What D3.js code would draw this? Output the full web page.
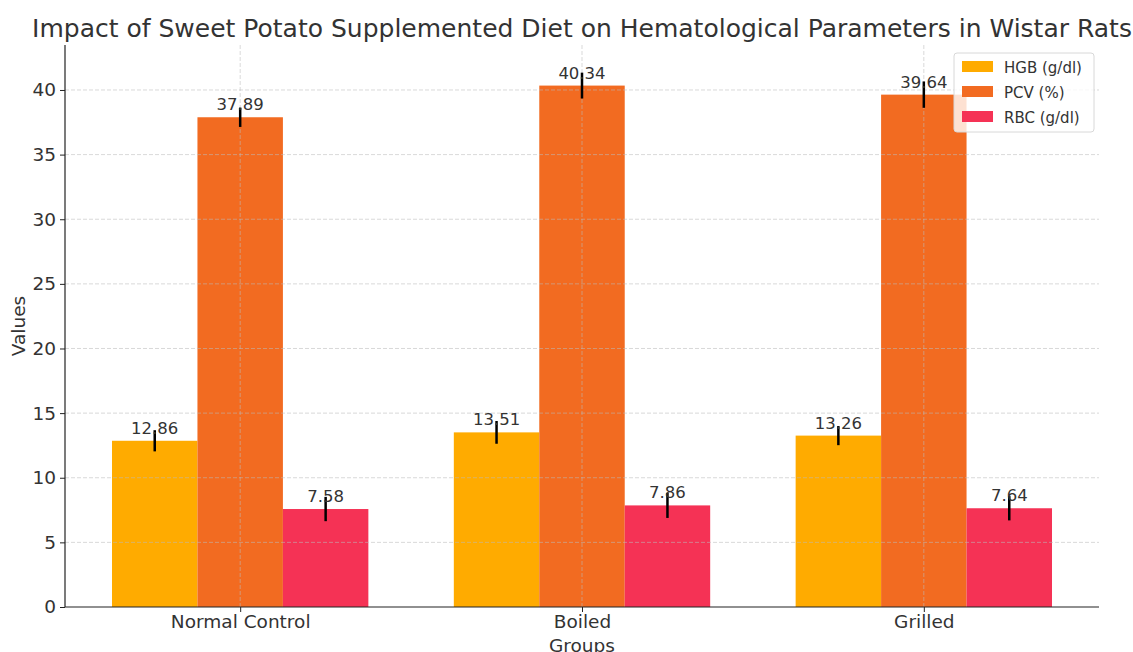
<!DOCTYPE html>
<html>
<head>
<meta charset="utf-8">
<script src="https://cdn.jsdelivr.net/npm/d3@7"></script>
<style>
  body { margin: 0; background: #fff; }
  svg { font-family: "DejaVu Sans", sans-serif; }
</style>
</head>
<body>
<svg id="chart" width="1133" height="652"></svg>
<script>
// data
var groups = ["Normal Control", "Boiled", "Grilled"];
var seriesNames = ["HGB (g/dl)", "PCV (%)", "RBC (g/dl)"];
var hgb = [12.86, 13.51, 13.26];
var pcv = [37.89, 40.34, 39.64];
var rbc = [7.58, 7.86, 7.64];
var hgbErr = [0.82, 0.88, 0.74];
var pcvErr = [0.75, 1.0, 1.02];
var rbcErr = [0.94, 0.97, 0.94];
var yTicks = [0, 5, 10, 15, 20, 25, 30, 35, 40];
var colors = ["#ffab00", "#f26b21", "#f53255"];

var series = [
  {name: seriesNames[0], values: hgb, err: hgbErr},
  {name: seriesNames[1], values: pcv, err: pcvErr},
  {name: seriesNames[2], values: rbc, err: rbcErr}
];

var svg = d3.select("#chart");
// plot box (window.top is taken, so prefixed names)
var pLeft = 65, pRight = 1099, pTop = 45, pBottom = 607;

// matplotlib style numeric x: groups at 0,1,2 with bar width 0.25
var barW = 0.25;
var x = d3.scaleLinear().domain([-0.5125, 2.5125]).range([pLeft, pRight]);
var y = d3.scaleLinear().domain([0, 43.48]).range([pBottom, pTop]);

// bars
series.forEach(function(s, si) {
  var off = (si - 1) * barW;
  var g = svg.append("g").attr("class", "series");
  g.selectAll("rect").data(s.values).enter().append("rect")
      .attr("x", function(d, i) { return x(i + off - barW / 2); })
      .attr("width", x(barW) - x(0))
      .attr("y", function(d) { return y(d); })
      .attr("height", function(d) { return y(0) - y(d); })
      .attr("fill", colors[si]);
});

// grid drawn over bars, faint
var grid = svg.append("g").attr("class", "grid");
grid.selectAll("line.h").data(yTicks.slice(1)).enter().append("line")
    .attr("class", "h")
    .attr("x1", pLeft).attr("x2", pRight)
    .attr("y1", function(d) { return y(d); })
    .attr("y2", function(d) { return y(d); });
grid.selectAll("line.v").data(groups).enter().append("line")
    .attr("class", "v")
    .attr("x1", function(d, i) { return x(i); })
    .attr("x2", function(d, i) { return x(i); })
    .attr("y1", pTop).attr("y2", pBottom);
grid.selectAll("line")
    .attr("stroke", "#bbb").attr("stroke-opacity", 0.7)
    .attr("stroke-dasharray", "4,2").attr("stroke-width", 0.8);

// error bars and labels
series.forEach(function(s, si) {
  var off = (si - 1) * barW;
  var g = svg.append("g");
  g.selectAll("line").data(s.values).enter().append("line")
      .attr("x1", function(d, i) { return x(i + off); })
      .attr("x2", function(d, i) { return x(i + off); })
      .attr("y1", function(d, i) { return y(d - s.err[i]); })
      .attr("y2", function(d, i) { return y(d + s.err[i]); })
      .attr("stroke", "#000").attr("stroke-width", 2.5);
  g.selectAll("text").data(s.values).enter().append("text")
      .attr("x", function(d, i) { return x(i + off); })
      .attr("y", function(d) { return y(d) - 7; })
      .attr("text-anchor", "middle")
      .attr("font-size", 16.5).attr("fill", "#333")
      .text(function(d) { return d.toFixed(2); });
});

// axes
var yAxis = svg.append("g").attr("transform", "translate(" + pLeft + ",0)")
    .call(d3.axisLeft(y).tickValues(yTicks).tickSize(5).tickPadding(4).tickFormat(d3.format("d")));
var xAxis = svg.append("g").attr("transform", "translate(0," + pBottom + ")")
    .call(d3.axisBottom(x).tickValues([0, 1, 2]).tickSize(5).tickPadding(3)
      .tickFormat(function(d) { return groups[d]; }));
[xAxis, yAxis].forEach(function(a) {
  a.select(".domain").attr("stroke", "#222").attr("stroke-width", 1.2);
  a.selectAll(".tick line").attr("stroke", "#222");
  a.selectAll(".tick text").attr("font-size", 18.5).attr("fill", "#333")
      .attr("font-family", "DejaVu Sans, sans-serif");
});
yAxis.select(".domain").attr("d", "M0," + pBottom + "V" + pTop);
xAxis.select(".domain").attr("d", "M" + pLeft + ",0H" + pRight);

// titles
svg.append("text").attr("x", 582).attr("y", 37)
    .attr("text-anchor", "middle").attr("font-size", 25).attr("fill", "#333")
    .text("Impact of Sweet Potato Supplemented Diet on Hematological Parameters in Wistar Rats");
svg.append("text").attr("x", 582).attr("y", 652)
    .attr("text-anchor", "middle").attr("font-size", 18.5).attr("fill", "#333")
    .text("Groups");
svg.append("text")
    .attr("transform", "translate(25," + (pTop + pBottom) / 2 + ") rotate(-90)")
    .attr("text-anchor", "middle").attr("font-size", 18.5).attr("fill", "#333")
    .text("Values");

// legend
var lg = svg.append("g").attr("transform", "translate(954,53)");
lg.append("rect").attr("width", 140).attr("height", 79).attr("rx", 3)
    .attr("fill", "#fff").attr("fill-opacity", 0.8)
    .attr("stroke", "#d8d8d8");
seriesNames.forEach(function(n, i) {
  lg.append("rect").attr("x", 8).attr("y", 8 + i * 25).attr("width", 31).attr("height", 11)
      .attr("fill", colors[i]);
  lg.append("text").attr("x", 50).attr("y", 19.5 + i * 25)
      .attr("font-size", 15).attr("fill", "#333").text(n);
});
</script>
</body>
</html>
